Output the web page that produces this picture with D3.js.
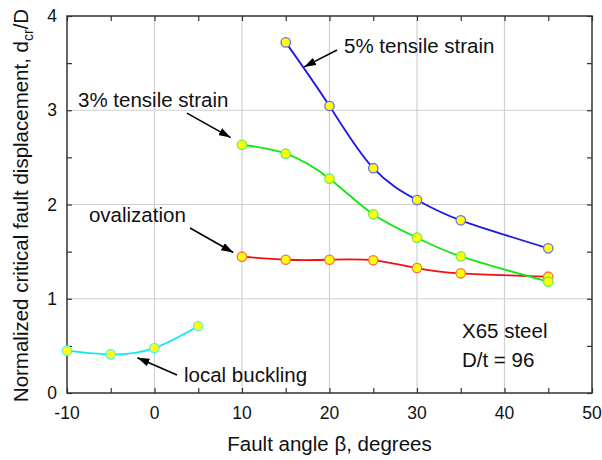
<!DOCTYPE html>
<html>
<head>
<meta charset="utf-8">
<script src="https://cdn.jsdelivr.net/npm/d3@7"></script>
<style>
  body { margin: 0; background: #fff; }
  text { font-family: "Liberation Sans", Arial, sans-serif; fill: #111; }
</style>
</head>
<body>
<svg id="chart" width="602" height="460"></svg>
<script>
// fault angle beta (degrees) for each curve
const angles5 = [15, 20, 25, 30, 35, 45];
const strain5 = [3.72, 3.045, 2.385, 2.048, 1.832, 1.535];

const angles3 = [10, 15, 20, 25, 30, 35, 45];
const strain3 = [2.634, 2.539, 2.274, 1.896, 1.648, 1.45, 1.181];

const anglesOval = [10, 15, 20, 25, 30, 35, 45];
const ovalization = [1.446, 1.414, 1.414, 1.408, 1.326, 1.27, 1.234];

const anglesBuck = [-10, -5, 0, 5];
const localBuckling = [0.449, 0.41, 0.477, 0.71];

const xTicks = [-10, 0, 10, 20, 30, 40, 50];
const yTicks = [0, 1, 2, 3, 4];

// annotation labels, in data units: text anchor + arrow from/to
const labels = [
  { text: "5% tensile strain", at: [21.66, 3.607], from: [20.86, 3.64], to: [17.1, 3.46] },
  { text: "3% tensile strain", at: [-8.74, 3.03], from: [3.71, 2.97], to: [8.7, 2.71] },
  { text: "ovalization", at: [-7.49, 1.814], from: [4.06, 1.75], to: [9.0, 1.49] },
  { text: "local buckling", at: [3.37, 0.117], from: [2.57, 0.19], to: [-1.95, 0.375] }
];
const noteLines = ["X65 steel", "D/t = 96"];

const svg = d3.select('#chart');
const margin = { top: 16, right: 10, bottom: 67, left: 67 };
const width = 602 - margin.left - margin.right;
const height = 460 - margin.top - margin.bottom;

const x = d3.scaleLinear().domain([-10, 50]).range([margin.left, margin.left + width]);
const y = d3.scaleLinear().domain([0, 4]).range([margin.top + height, margin.top]);

// grid
svg.append('g')
  .selectAll('line.gx')
  .data(xTicks.slice(1, -1))
  .join('line')
  .attr('x1', d => x(d)).attr('x2', d => x(d))
  .attr('y1', y(0)).attr('y2', y(4))
  .attr('stroke', '#cfcfcf').attr('stroke-width', 1.2);
svg.append('g')
  .selectAll('line.gy')
  .data(yTicks.slice(1, -1))
  .join('line')
  .attr('x1', x(-10)).attr('x2', x(50))
  .attr('y1', d => y(d)).attr('y2', d => y(d))
  .attr('stroke', '#cfcfcf').attr('stroke-width', 1.2);

// axes, ticks pointing inward on all sides
const xMinor = d3.range(-10, 50.1, 5);
const yMinor = d3.range(0, 4.01, 0.5);
function tickStyle(g) {
  g.select('.domain').remove();
  g.selectAll('.tick line').attr('stroke', '#333').attr('stroke-width', 1.2);
}
svg.append('g')
  .attr('transform', `translate(0,${y(0)})`)
  .call(d3.axisBottom(x).tickValues(xMinor).tickSize(-5).tickFormat(''))
  .call(tickStyle);
svg.append('g')
  .attr('transform', `translate(0,${y(4)})`)
  .call(d3.axisTop(x).tickValues(xMinor).tickSize(-5).tickFormat(''))
  .call(tickStyle);
svg.append('g')
  .attr('transform', `translate(${x(-10)},0)`)
  .call(d3.axisLeft(y).tickValues(yMinor).tickSize(-5).tickFormat(''))
  .call(tickStyle);
svg.append('g')
  .attr('transform', `translate(${x(50)},0)`)
  .call(d3.axisRight(y).tickValues(yMinor).tickSize(-5).tickFormat(''))
  .call(tickStyle);

// tick labels
svg.append('g')
  .selectAll('text')
  .data(xTicks)
  .join('text')
  .attr('x', d => x(d))
  .attr('y', y(0) + 26)
  .attr('text-anchor', 'middle')
  .style('font-size', '17.5px')
  .text(d => d);
svg.append('g')
  .selectAll('text')
  .data(yTicks)
  .join('text')
  .attr('x', x(-10) - 10)
  .attr('y', d => y(d) + 6)
  .attr('text-anchor', 'end')
  .style('font-size', '17.5px')
  .text(d => d);

// frame
svg.append('rect')
  .attr('x', x(-10)).attr('y', y(4))
  .attr('width', x(50) - x(-10)).attr('height', y(0) - y(4))
  .attr('fill', 'none').attr('stroke', '#333').attr('stroke-width', 1.5);

// axis titles
svg.append('text')
  .attr('x', (x(-10) + x(50)) / 2)
  .attr('y', 451)
  .attr('text-anchor', 'middle')
  .style('font-size', '20.5px')
  .text('Fault angle β, degrees');

const yTitle = svg.append('text')
  .attr('transform', `translate(28,${(y(0) + y(4)) / 2 + 1}) rotate(-90)`)
  .attr('text-anchor', 'middle')
  .style('font-size', '20.5px');
yTitle.append('tspan').text('Normalized critical fault displacement, d');
yTitle.append('tspan').attr('dy', 5).style('font-size', '14px').text('cr');
yTitle.append('tspan').attr('dy', -5).text('/D');

// curves
const series = [
  { xs: anglesBuck, ys: localBuckling, color: '#10e8f0', edge: '#55f0f5' },
  { xs: anglesOval, ys: ovalization, color: '#f01010', edge: '#ff6a50' },
  { xs: angles3, ys: strain3, color: '#10e810', edge: '#60f060' },
  { xs: angles5, ys: strain5, color: '#1a1ae8', edge: '#6a6af5' }
];
const line = d3.line()
  .x(d => x(d[0]))
  .y(d => y(d[1]))
  .curve(d3.curveNatural);

series.forEach(s => {
  const pts = s.xs.map((v, i) => [v, s.ys[i]]);
  svg.append('path')
    .datum(pts)
    .attr('d', line)
    .attr('fill', 'none')
    .attr('stroke', s.color)
    .attr('stroke-width', 1.8);
  svg.append('g')
    .selectAll('circle')
    .data(pts)
    .join('circle')
    .attr('cx', d => x(d[0]))
    .attr('cy', d => y(d[1]))
    .attr('r', 4.7)
    .attr('fill', '#ffff00')
    .attr('stroke', s.edge)
    .attr('stroke-width', 1.3);
});

// arrows
svg.append('defs').append('marker')
  .attr('id', 'head')
  .attr('viewBox', '0 0 12 8')
  .attr('refX', 12).attr('refY', 4)
  .attr('markerWidth', 12).attr('markerHeight', 8)
  .attr('markerUnits', 'userSpaceOnUse')
  .attr('orient', 'auto')
  .append('path')
  .attr('d', 'M0,0 L12,4 L0,8 Z')
  .attr('fill', '#000');

labels.forEach(l => {
  svg.append('text')
    .attr('x', x(l.at[0]))
    .attr('y', y(l.at[1]))
    .style('font-size', '20.5px')
    .text(l.text);
  svg.append('line')
    .attr('x1', x(l.from[0])).attr('y1', y(l.from[1]))
    .attr('x2', x(l.to[0])).attr('y2', y(l.to[1]))
    .attr('stroke', '#000').attr('stroke-width', 1.6)
    .attr('marker-end', 'url(#head)');
});

svg.append('g')
  .selectAll('text')
  .data(noteLines)
  .join('text')
  .attr('x', x(35.14))
  .attr('y', (d, i) => y(0.584) + i * 29)
  .style('font-size', '20.5px')
  .text(d => d);
</script>
</body>
</html>
